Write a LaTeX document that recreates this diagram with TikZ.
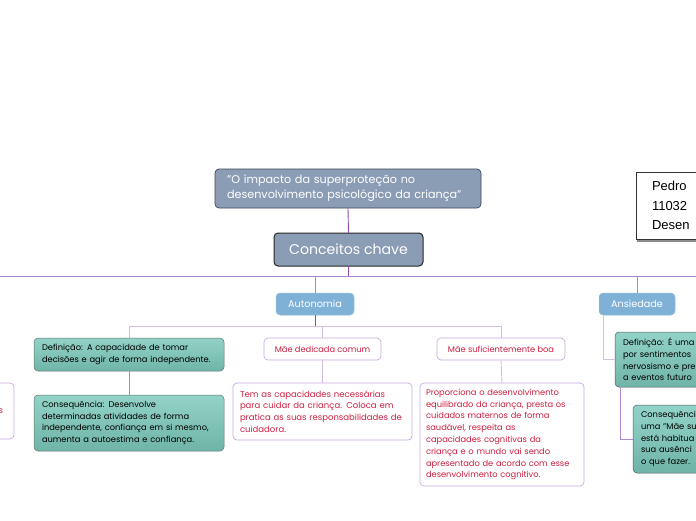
\documentclass[tikz,border=0pt]{standalone}
\usepackage{fontspec}
\setmainfont{Poppins}
\newfontfamily\plainsans{Liberation Sans}
\usetikzlibrary{calc,positioning,shadows}

\definecolor{slatefill}{HTML}{8B9CB5}
\definecolor{slateline}{HTML}{3A4656}
\definecolor{topicblue}{HTML}{7FB1D7}
\definecolor{tealtop}{HTML}{93D3C7}
\definecolor{tealbot}{HTML}{6FB4A7}
\definecolor{tealline}{HTML}{5F7370}
\definecolor{lilac}{HTML}{C8A9DD}
\definecolor{crimson}{HTML}{CC1F40}
\definecolor{trunkpurple}{HTML}{8E4AAE}
\definecolor{branchpurple}{HTML}{AE86CC}
\definecolor{twigpurple}{HTML}{D3BFE4}

\tikzset{
  box/.style={inner ysep=0pt, outer sep=0pt, rounded corners=4pt, anchor=north west, align=left},
  titlebox/.style={box, fill=slatefill, draw=slateline, line width=0.7pt, text=white,
    inner xsep=12pt, font=\fontsize{11.2}{15}\selectfont},
  keybox/.style={box, fill=slatefill, draw=black!85, line width=1pt, text=white,
    align=center, font=\fontsize{14.1}{16}\selectfont},
  topicbox/.style={box, fill=topicblue, draw=topicblue!85!white, line width=0.5pt, text=white,
    align=center, font=\fontsize{9.7}{11}\selectfont},
  defbox/.style={box, top color=tealtop, bottom color=tealbot, draw=tealline, line width=0.5pt,
    text=black, inner xsep=8pt, font=\fontsize{8.3}{11.6}\selectfont},
  momtitle/.style={box, fill=white, draw=lilac, line width=0.7pt, text=crimson,
    align=center, font=\fontsize{8.3}{10}\selectfont},
  momnote/.style={box, fill=white, draw=lilac, line width=0.7pt, text=crimson,
    inner xsep=7pt, font=\fontsize{8.5}{11.7}\selectfont},
  namebox/.style={box, fill=white, draw=black!80, line width=0.5pt, rounded corners=0pt,
    inner xsep=16pt, font=\plainsans\fontsize{13}{19.5}\selectfont,
    drop shadow={shadow xshift=1pt, shadow yshift=-2.6pt, fill=black!45, opacity=1}},
  trunk/.style={draw=trunkpurple, line width=0.9pt},
  branch/.style={draw=branchpurple, line width=0.8pt},
  twig/.style={draw=twigpurple, line width=0.9pt}
}

\begin{document}
\begin{tikzpicture}[x=1pt, y=-1pt]
  \useasboundingbox (0,0) rectangle (696,520);
  \clip (0,0) rectangle (696,520);

  % central topic
  \node[titlebox, minimum width=266pt, minimum height=39pt, text width=242pt] (title) at (215,169)
    {"O impacto da superproteção no\\desenvolvimento psicológico da criança"};
  \node[keybox, minimum width=149pt, minimum height=33pt] (key) at (274,233) {Conceitos chave};
  \node[namebox, minimum width=160pt, minimum height=67pt, text width=128pt] (name) at (636,172)
    {Pedro\\11032\\Desen};

  \coordinate (busW) at (-5,276);
  \coordinate (busE) at (701,276);

  % main branches
  \node[topicbox, minimum width=78pt, minimum height=22pt] (auto) at (276,293) {Autonomia};
  \node[topicbox, minimum width=76pt, minimum height=22pt] (anx) at (599,293) {Ansiedade};

  % autonomia
  \node[defbox, minimum width=190pt, minimum height=33pt, text width=174pt] (adef) at (34,338)
    {Definição: A capacidade de tomar\\decisões e agir de forma independente.};
  \node[defbox, minimum width=190pt, minimum height=56pt, text width=174pt] (acon) at (34,395)
    {Consequência: Desenvolve\\determinadas atividades de forma\\independente, confiança em si mesmo,\\aumenta a autoestima e confiança.};
  \node[momtitle, minimum width=117pt, minimum height=22pt] (dmc) at (264,338) {Mãe dedicada comum};
  \node[momnote, minimum width=179pt, minimum height=57pt, text width=165pt] (dmcnote) at (233,383)
    {Tem as capacidades necessárias\\para cuidar da criança. Coloca em\\pratica as suas responsabilidades de\\cuidadora.};
  \node[momtitle, minimum width=128pt, minimum height=22pt] (msb) at (437,338) {Mãe suficientemente boa};
  \node[momnote, minimum width=162pt, minimum height=103pt, text width=152pt, inner xsep=6pt,
    font=\fontsize{8.3}{11.8}\selectfont] (msbnote) at (420,383)
    {Proporciona o desenvolvimento\\equilibrado da criança, presta os\\cuidados maternos de forma\\saudável, respeita as\\capacidades cognitivas da\\criança e o mundo vai sendo\\apresentado de acordo com esse\\desenvolvimento cognitivo.};
  \node[momnote, anchor=north east, minimum width=114pt, minimum height=56pt, text width=100pt, align=right,
    inner xsep=11pt] (leftnote) at (14,383) {s};

  % ansiedade
  \node[defbox, minimum width=160pt, minimum height=55pt, text width=144pt, draw=tealline!80!black] (xdef) at (615,332)
    {Definição: É uma\\por sentimentos\\nervosismo e pre\\a eventos futuro};
  \node[defbox, minimum width=160pt, minimum height=68pt, text width=144pt, draw=tealline!80!black] (xcon) at (633,405)
    {Consequênci\\uma "Mãe su\\está habitua\\sua ausênci\\o que fazer.};

  % connectors
  \draw[trunk] (title.south) -- (key.north);
  \draw[trunk] (key.south) -- (key.south |- busW);
  \draw[branch] (busW) -- (busE);
  \draw[branch] (auto.north) -- (auto.north |- busW);
  \draw[branch] (anx.north) -- (anx.north |- busW);
  \draw[trunk] (auto.south) -- ++(0,11) coordinate (abus);
  \draw[twig] (adef.north) -- (adef.north |- abus) -- (msb.north |- abus) -- (msb.north);
  \draw[twig] (dmc.north) -- (dmc.north |- abus);
  \draw[branch] (adef.south) -- (acon.north);
  \draw[twig] (dmc.south) -- (dmcnote.north);
  \draw[twig] (msb.south) -- (msbnote.north);
  \draw[twig] ([xshift=4pt]anx.south west) |- (xdef.west);
  \draw[branch] ([xshift=5pt]xdef.south west) |- (xcon.west);
\end{tikzpicture}
\end{document}
